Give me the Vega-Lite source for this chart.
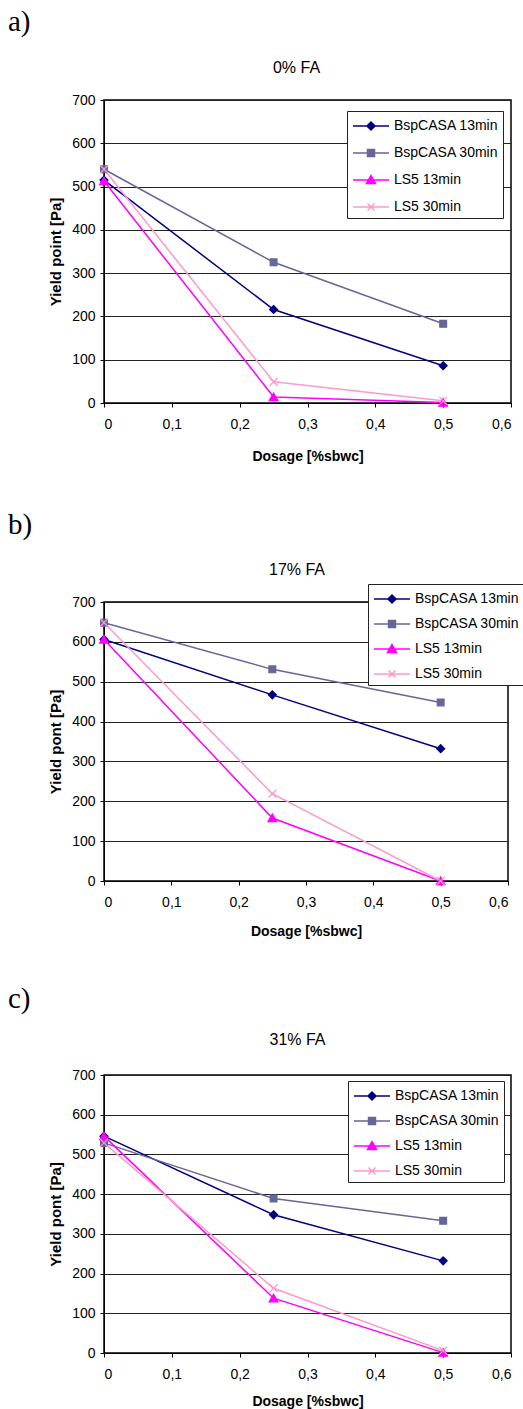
{
  "$schema": "https://vega.github.io/schema/vega-lite/v6.json",
  "background": "white",
  "padding": {"left": 7, "top": 8, "right": 0, "bottom": 0},
  "spacing": 46,
  "config": {
    "font": "Liberation Sans",
    "view": {"stroke": "#000", "strokeWidth": 1.5},
    "axis": {
      "labelFont": "Liberation Sans", "labelFontSize": 14, "labelColor": "#000",
      "tickColor": "#000", "tickSize": 4, "domainColor": "#000",
      "titleFont": "Liberation Sans", "titleFontSize": 14, "titleFontWeight": "bold", "titleColor": "#000"
    },
    "title": {"font": "Liberation Sans", "color": "#000", "fontWeight": "normal"},
    "legend": {
      "title": null, "symbolSize": 400, "labelFontSize": 14, "labelFont": "Liberation Sans", "labelColor": "#000",
      "strokeColor": "#222", "fillColor": "white", "padding": 4, "labelOffset": 21, "labelLimit": 200
    }
  },
  "datasets": {
    "yp": [
      {"panel": "a", "series": "BspCASA 13min", "dosage": 0, "yield": 515},
      {"panel": "a", "series": "BspCASA 13min", "dosage": 0.25, "yield": 216},
      {"panel": "a", "series": "BspCASA 13min", "dosage": 0.5, "yield": 86},
      {"panel": "a", "series": "BspCASA 30min", "dosage": 0, "yield": 540},
      {"panel": "a", "series": "BspCASA 30min", "dosage": 0.25, "yield": 325},
      {"panel": "a", "series": "BspCASA 30min", "dosage": 0.5, "yield": 183},
      {"panel": "a", "series": "LS5 13min", "dosage": 0, "yield": 513},
      {"panel": "a", "series": "LS5 13min", "dosage": 0.25, "yield": 14},
      {"panel": "a", "series": "LS5 13min", "dosage": 0.5, "yield": 1},
      {"panel": "a", "series": "LS5 30min", "dosage": 0, "yield": 540},
      {"panel": "a", "series": "LS5 30min", "dosage": 0.25, "yield": 49},
      {"panel": "a", "series": "LS5 30min", "dosage": 0.5, "yield": 5},
      {"panel": "b", "series": "BspCASA 13min", "dosage": 0, "yield": 606},
      {"panel": "b", "series": "BspCASA 13min", "dosage": 0.25, "yield": 467},
      {"panel": "b", "series": "BspCASA 13min", "dosage": 0.5, "yield": 332},
      {"panel": "b", "series": "BspCASA 30min", "dosage": 0, "yield": 648},
      {"panel": "b", "series": "BspCASA 30min", "dosage": 0.25, "yield": 531},
      {"panel": "b", "series": "BspCASA 30min", "dosage": 0.5, "yield": 448},
      {"panel": "b", "series": "LS5 13min", "dosage": 0, "yield": 606},
      {"panel": "b", "series": "LS5 13min", "dosage": 0.25, "yield": 158},
      {"panel": "b", "series": "LS5 13min", "dosage": 0.5, "yield": 0},
      {"panel": "b", "series": "LS5 30min", "dosage": 0, "yield": 648},
      {"panel": "b", "series": "LS5 30min", "dosage": 0.25, "yield": 219},
      {"panel": "b", "series": "LS5 30min", "dosage": 0.5, "yield": 0},
      {"panel": "c", "series": "BspCASA 13min", "dosage": 0, "yield": 546},
      {"panel": "c", "series": "BspCASA 13min", "dosage": 0.25, "yield": 348},
      {"panel": "c", "series": "BspCASA 13min", "dosage": 0.5, "yield": 232},
      {"panel": "c", "series": "BspCASA 30min", "dosage": 0, "yield": 529},
      {"panel": "c", "series": "BspCASA 30min", "dosage": 0.25, "yield": 389},
      {"panel": "c", "series": "BspCASA 30min", "dosage": 0.5, "yield": 333},
      {"panel": "c", "series": "LS5 13min", "dosage": 0, "yield": 546},
      {"panel": "c", "series": "LS5 13min", "dosage": 0.25, "yield": 138},
      {"panel": "c", "series": "LS5 13min", "dosage": 0.5, "yield": 1},
      {"panel": "c", "series": "LS5 30min", "dosage": 0, "yield": 529},
      {"panel": "c", "series": "LS5 30min", "dosage": 0.25, "yield": 163},
      {"panel": "c", "series": "LS5 30min", "dosage": 0.5, "yield": 6}
    ]
  },
  "resolve": {"scale": {"color": "independent"}, "legend": {"color": "independent"}},
  "vconcat": [
    {
      "title": {"text": "a)", "anchor": "start", "frame": "bounds", "font": "Liberation Serif", "fontSize": 29, "fontWeight": "normal", "dx": -40, "offset": 22},
      "resolve": {"scale": {"color": "independent"}, "legend": {"color": "independent"}},
      "vconcat": [
        {
          "width": 407, "height": 303,
          "title": {"text": "0% FA", "fontSize": 16, "offset": 17, "dx": -11},
          "data": {"name": "yp"},
          "transform": [{"filter": "datum.panel === 'a'"}],
          "encoding": {
            "x": {"field": "dosage", "type": "quantitative", "scale": {"domain": [0, 0.6], "nice": false},
              "axis": {"title": "Dosage [%sbwc]", "values": [0, 0.1, 0.2, 0.3, 0.4, 0.5, 0.6], "format": ".1~f", "labelExpr": "replace(datum.label, '.', ',')", "grid": false, "labelPadding": 10, "titlePadding": 18}},
            "y": {"field": "yield", "type": "quantitative", "scale": {"domain": [0, 700], "nice": false},
              "axis": {"title": "Yield point [Pa]", "values": [0, 100, 200, 300, 400, 500, 600, 700], "grid": true, "gridColor": "#222", "gridWidth": 1, "labelPadding": 5, "titlePadding": 8, "titleFontSize": 15}}
          },
          "layer": [
            {
              "mark": {"type": "line", "strokeWidth": 1.5},
              "encoding": {
                "color": {"field": "series", "type": "nominal",
                  "scale": {"domain": ["BspCASA 13min", "BspCASA 30min", "LS5 13min", "LS5 30min"], "range": ["#000080", "#666699", "#FF00FF", "#FF99CC"]},
                  "legend": {"orient": "none", "legendX": 243, "legendY": 11, "rowPadding": 9,
                    "encode": {"symbols": {"update": {
                      "shape": {"signal": "datum.value === 'BspCASA 13min' ? 'M-0.9,0H2.7M0.9,-0.4L1.3,0L0.9,0.4L0.5,0Z' : datum.value === 'BspCASA 30min' ? 'M-0.9,0H2.7M0.55,-0.35H1.25V0.35H0.55Z' : datum.value === 'LS5 13min' ? 'M-0.9,0H2.7M0.9,-0.45L1.35,0.35L0.45,0.35Z' : 'M-0.9,0H2.7M0.55,-0.35L1.25,0.35M0.55,0.35L1.25,-0.35'"},
                      "fill": {"signal": "datum.value === 'BspCASA 13min' ? '#000080' : datum.value === 'BspCASA 30min' ? '#666699' : datum.value === 'LS5 13min' ? '#FF00FF' : '#FF99CC'"},
                      "stroke": {"signal": "datum.value === 'BspCASA 13min' ? '#000080' : datum.value === 'BspCASA 30min' ? '#666699' : datum.value === 'LS5 13min' ? '#FF00FF' : '#FF99CC'"},
                      "strokeWidth": {"value": 1.5},
                      "opacity": {"value": 1}
                    }}}
                  }}
              }
            },
            {
              "mark": {"type": "point", "filled": true, "size": 64, "strokeWidth": 1.2, "opacity": 1},
              "encoding": {
                "fill": {"field": "series", "type": "nominal", "legend": null,
                  "scale": {"domain": ["BspCASA 13min", "BspCASA 30min", "LS5 13min", "LS5 30min"], "range": ["#000080", "#666699", "#FF00FF", "#FF99CC"]}},
                "stroke": {"field": "series", "type": "nominal", "legend": null,
                  "scale": {"domain": ["BspCASA 13min", "BspCASA 30min", "LS5 13min", "LS5 30min"], "range": ["#000080", "#666699", "#FF00FF", "#FF99CC"]}},
                "shape": {"field": "series", "type": "nominal", "legend": null,
                  "scale": {"domain": ["BspCASA 13min", "BspCASA 30min", "LS5 13min", "LS5 30min"], "range": ["M0,-1L1,0L0,1L-1,0Z", "M-0.85,-0.85H0.85V0.85H-0.85Z", "M0,-1L1.1,0.9L-1.1,0.9Z", "M-1,-1L1,1M-1,1L1,-1"]}}
              }
            }
          ]
        }
      ]
    },
    {
      "title": {"text": "b)", "anchor": "start", "frame": "bounds", "font": "Liberation Serif", "fontSize": 29, "fontWeight": "normal", "dx": -40, "offset": 21},
      "resolve": {"scale": {"color": "independent"}, "legend": {"color": "independent"}},
      "vconcat": [
        {
          "width": 404, "height": 279,
          "title": {"text": "17% FA", "fontSize": 16, "offset": 6, "dx": -9},
          "data": {"name": "yp"},
          "transform": [{"filter": "datum.panel === 'b'"}],
          "encoding": {
            "x": {"field": "dosage", "type": "quantitative", "scale": {"domain": [0, 0.6], "nice": false},
              "axis": {"title": "Dosage [%sbwc]", "values": [0, 0.1, 0.2, 0.3, 0.4, 0.5, 0.6], "format": ".1~f", "labelExpr": "replace(datum.label, '.', ',')", "grid": false, "labelPadding": 10, "titlePadding": 15}},
            "y": {"field": "yield", "type": "quantitative", "scale": {"domain": [0, 700], "nice": false},
              "axis": {"title": "Yield pont [Pa]", "values": [0, 100, 200, 300, 400, 500, 600, 700], "grid": true, "gridColor": "#222", "gridWidth": 1, "labelPadding": 5, "titlePadding": 8, "titleFontSize": 15}}
          },
          "layer": [
            {
              "mark": {"type": "line", "strokeWidth": 1.5},
              "encoding": {
                "color": {"field": "series", "type": "nominal",
                  "scale": {"domain": ["BspCASA 13min", "BspCASA 30min", "LS5 13min", "LS5 30min"], "range": ["#000080", "#666699", "#FF00FF", "#FF99CC"]},
                  "legend": {"orient": "none", "legendX": 264, "legendY": -18, "rowPadding": 7,
                    "encode": {"symbols": {"update": {
                      "shape": {"signal": "datum.value === 'BspCASA 13min' ? 'M-0.9,0H2.7M0.9,-0.4L1.3,0L0.9,0.4L0.5,0Z' : datum.value === 'BspCASA 30min' ? 'M-0.9,0H2.7M0.55,-0.35H1.25V0.35H0.55Z' : datum.value === 'LS5 13min' ? 'M-0.9,0H2.7M0.9,-0.45L1.35,0.35L0.45,0.35Z' : 'M-0.9,0H2.7M0.55,-0.35L1.25,0.35M0.55,0.35L1.25,-0.35'"},
                      "fill": {"signal": "datum.value === 'BspCASA 13min' ? '#000080' : datum.value === 'BspCASA 30min' ? '#666699' : datum.value === 'LS5 13min' ? '#FF00FF' : '#FF99CC'"},
                      "stroke": {"signal": "datum.value === 'BspCASA 13min' ? '#000080' : datum.value === 'BspCASA 30min' ? '#666699' : datum.value === 'LS5 13min' ? '#FF00FF' : '#FF99CC'"},
                      "strokeWidth": {"value": 1.5},
                      "opacity": {"value": 1}
                    }}}
                  }}
              }
            },
            {
              "mark": {"type": "point", "filled": true, "size": 64, "strokeWidth": 1.2, "opacity": 1},
              "encoding": {
                "fill": {"field": "series", "type": "nominal", "legend": null,
                  "scale": {"domain": ["BspCASA 13min", "BspCASA 30min", "LS5 13min", "LS5 30min"], "range": ["#000080", "#666699", "#FF00FF", "#FF99CC"]}},
                "stroke": {"field": "series", "type": "nominal", "legend": null,
                  "scale": {"domain": ["BspCASA 13min", "BspCASA 30min", "LS5 13min", "LS5 30min"], "range": ["#000080", "#666699", "#FF00FF", "#FF99CC"]}},
                "shape": {"field": "series", "type": "nominal", "legend": null,
                  "scale": {"domain": ["BspCASA 13min", "BspCASA 30min", "LS5 13min", "LS5 30min"], "range": ["M0,-1L1,0L0,1L-1,0Z", "M-0.85,-0.85H0.85V0.85H-0.85Z", "M0,-1L1.1,0.9L-1.1,0.9Z", "M-1,-1L1,1M-1,1L1,-1"]}}
              }
            }
          ]
        }
      ]
    },
    {
      "title": {"text": "c)", "anchor": "start", "frame": "bounds", "font": "Liberation Serif", "fontSize": 29, "fontWeight": "normal", "dx": -40, "offset": 17},
      "resolve": {"scale": {"color": "independent"}, "legend": {"color": "independent"}},
      "vconcat": [
        {
          "width": 407, "height": 278,
          "title": {"text": "31% FA", "fontSize": 16, "offset": 20, "dx": -10},
          "data": {"name": "yp"},
          "transform": [{"filter": "datum.panel === 'c'"}],
          "encoding": {
            "x": {"field": "dosage", "type": "quantitative", "scale": {"domain": [0, 0.6], "nice": false},
              "axis": {"title": "Dosage [%sbwc]", "values": [0, 0.1, 0.2, 0.3, 0.4, 0.5, 0.6], "format": ".1~f", "labelExpr": "replace(datum.label, '.', ',')", "grid": false, "labelPadding": 10, "titlePadding": 13}},
            "y": {"field": "yield", "type": "quantitative", "scale": {"domain": [0, 700], "nice": false},
              "axis": {"title": "Yield pont [Pa]", "values": [0, 100, 200, 300, 400, 500, 600, 700], "grid": true, "gridColor": "#222", "gridWidth": 1, "labelPadding": 5, "titlePadding": 8, "titleFontSize": 15}}
          },
          "layer": [
            {
              "mark": {"type": "line", "strokeWidth": 1.5},
              "encoding": {
                "color": {"field": "series", "type": "nominal",
                  "scale": {"domain": ["BspCASA 13min", "BspCASA 30min", "LS5 13min", "LS5 30min"], "range": ["#000080", "#666699", "#FF00FF", "#FF99CC"]},
                  "legend": {"orient": "none", "legendX": 244, "legendY": 6, "rowPadding": 7,
                    "encode": {"symbols": {"update": {
                      "shape": {"signal": "datum.value === 'BspCASA 13min' ? 'M-0.9,0H2.7M0.9,-0.4L1.3,0L0.9,0.4L0.5,0Z' : datum.value === 'BspCASA 30min' ? 'M-0.9,0H2.7M0.55,-0.35H1.25V0.35H0.55Z' : datum.value === 'LS5 13min' ? 'M-0.9,0H2.7M0.9,-0.45L1.35,0.35L0.45,0.35Z' : 'M-0.9,0H2.7M0.55,-0.35L1.25,0.35M0.55,0.35L1.25,-0.35'"},
                      "fill": {"signal": "datum.value === 'BspCASA 13min' ? '#000080' : datum.value === 'BspCASA 30min' ? '#666699' : datum.value === 'LS5 13min' ? '#FF00FF' : '#FF99CC'"},
                      "stroke": {"signal": "datum.value === 'BspCASA 13min' ? '#000080' : datum.value === 'BspCASA 30min' ? '#666699' : datum.value === 'LS5 13min' ? '#FF00FF' : '#FF99CC'"},
                      "strokeWidth": {"value": 1.5},
                      "opacity": {"value": 1}
                    }}}
                  }}
              }
            },
            {
              "mark": {"type": "point", "filled": true, "size": 64, "strokeWidth": 1.2, "opacity": 1},
              "encoding": {
                "fill": {"field": "series", "type": "nominal", "legend": null,
                  "scale": {"domain": ["BspCASA 13min", "BspCASA 30min", "LS5 13min", "LS5 30min"], "range": ["#000080", "#666699", "#FF00FF", "#FF99CC"]}},
                "stroke": {"field": "series", "type": "nominal", "legend": null,
                  "scale": {"domain": ["BspCASA 13min", "BspCASA 30min", "LS5 13min", "LS5 30min"], "range": ["#000080", "#666699", "#FF00FF", "#FF99CC"]}},
                "shape": {"field": "series", "type": "nominal", "legend": null,
                  "scale": {"domain": ["BspCASA 13min", "BspCASA 30min", "LS5 13min", "LS5 30min"], "range": ["M0,-1L1,0L0,1L-1,0Z", "M-0.85,-0.85H0.85V0.85H-0.85Z", "M0,-1L1.1,0.9L-1.1,0.9Z", "M-1,-1L1,1M-1,1L1,-1"]}}
              }
            }
          ]
        }
      ]
    }
  ]
}
